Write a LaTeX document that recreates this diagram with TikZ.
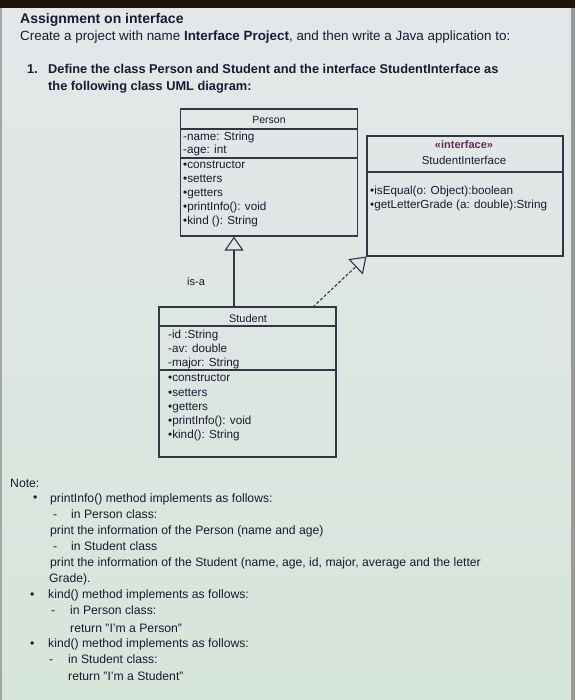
\documentclass[tikz,border=0pt]{standalone}
\usepackage{fontspec}
\setmainfont{Liberation Sans}
\usetikzlibrary{arrows.meta}
\definecolor{ink}{RGB}{26,26,50}
\definecolor{lineclr}{RGB}{50,55,70}
\definecolor{bgtop}{RGB}{228,231,234}
\definecolor{bgbot}{RGB}{214,229,218}
\definecolor{pinkish}{RGB}{110,40,90}
\tikzset{
  txt/.style={anchor=base west, inner sep=0pt, text=ink, font=\fontsize{13.4}{15}\selectfont},
  boldtxt/.style={anchor=base west, inner sep=0pt, text=ink, font=\fontsize{12.8}{15}\selectfont\bfseries},
  umltxt/.style={anchor=base west, inner sep=0pt, text=ink, font=\fontsize{11.7}{13}\selectfont},
  umlhead/.style={anchor=base, inner sep=0pt, text=ink, font=\fontsize{10.5}{12}\selectfont},
  notetxt/.style={anchor=base west, inner sep=0pt, text=ink, font=\fontsize{12.2}{14}\selectfont},
  umlbox/.style={draw=lineclr, line width=1.1pt, inner sep=0pt},
  divider/.style={draw=lineclr, line width=1.1pt},
  inherit/.style={draw=lineclr, line width=1.1pt, -{Triangle[open, length=14pt, width=19pt, line width=1.1pt]}},
  realize/.style={draw=lineclr, line width=1.1pt, dash pattern=on 3pt off 2pt, -{Triangle[open, length=15pt, width=21pt, line width=1.1pt]}}
}
\begin{document}
\begin{tikzpicture}[x=1pt, y=-1pt]
\useasboundingbox (0,0) rectangle (575,700);
% background
\shade[top color=bgtop, bottom color=bgbot] (0,0) rectangle (575,700);
\fill[black!85!brown] (0,0) rectangle (575,8);
\fill[gray!70] (0,8) rectangle (2,700);
\fill[gray!80] (571,8) rectangle (575,700);

% heading
\node[txt, font=\fontsize{14}{16}\selectfont\bfseries] (title) at (20,24) {Assignment on interface};
\node[txt] (line2) at (20,41) {Create a project with name \textbf{Interface Project}, and then write a Java application to:};
\node[boldtxt] (num) at (27,74) {1.};
\node[boldtxt] (line3) at (48,74) {Define the class Person and Student and the interface StudentInterface as};
\node[boldtxt] (line4) at (48,91) {the following class UML diagram:};

% Person box
\node[umlbox, minimum width=177pt, minimum height=127pt] (person) at (269,172.5) {};
\draw[divider] (180,129) -- (357,129);
\draw[divider] (180,158) -- (357,158);
\node[umlhead] (pname) at (269,124) {Person};
\node[umltxt] (p1) at (183,140.5) {-name: String};
\node[umltxt] (p2) at (183,154) {-age: int};
\node[umltxt] (p3) at (183,169) {•constructor};
\node[umltxt] (p4) at (183,183) {•setters};
\node[umltxt] (p5) at (183,197) {•getters};
\node[umltxt] (p6) at (183,211) {•printInfo(): void};
\node[umltxt] (p7) at (183,225) {•kind (): String};

% Interface box
\node[umlbox, minimum width=196pt, minimum height=120pt] (iface) at (465,196) {};
\draw[divider] (367,172) -- (563,172);
\node[umlhead, text=pinkish, font=\fontsize{11}{12}\selectfont\bfseries] (istereo) at (464,149) {«interface»};
\node[umlhead, font=\fontsize{11.5}{12}\selectfont] (iname) at (464,165) {StudentInterface};
\node[umltxt] (i1) at (370,195) {•isEqual(o: Object):boolean};
\node[umltxt] (i2) at (370,209) {•getLetterGrade (a: double):String};

% Student box
\node[umlbox, minimum width=177pt, minimum height=150pt] (student) at (247.5,382) {};
\draw[divider] (159,326) -- (336,326);
\draw[divider] (159,370) -- (336,370);
\node[umlhead, font=\fontsize{11}{12}\selectfont] (sname) at (248,322) {Student};
\node[umltxt] (s1) at (168,338.5) {-id :String};
\node[umltxt] (s2) at (168,352) {-av: double};
\node[umltxt] (s3) at (168,366) {-major: String};
\node[umltxt] (s4) at (168,381.5) {•constructor};
\node[umltxt] (s5) at (168,396) {•setters};
\node[umltxt] (s6) at (168,410) {•getters};
\node[umltxt] (s7) at (168,424) {•printInfo(): void};
\node[umltxt] (s8) at (168,438) {•kind(): String};

% connectors
\coordinate (stop) at (234,307);
\draw[inherit] (stop) -- (stop |- person.south);
\node[anchor=base west, inner sep=0pt, text=ink, font=\fontsize{11}{12}\selectfont\rmfamily] (isa) at (187,285) {is-a};
\coordinate (sdash) at (313,307);
\draw[realize] (sdash) -- (iface.south west);

% notes
\node[notetxt] (note) at (10,487) {Note:};
\node[notetxt] (b1) at (33,501) {•};
\node[notetxt] (n1) at (50,502) {printInfo() method implements as follows:};
\node[notetxt] (d1) at (53,518) {-};
\node[notetxt] (n2) at (71,518) {in Person class:};
\node[notetxt] (n3) at (50,534) {print the information of the Person (name and age)};
\node[notetxt] (d2) at (53,550) {-};
\node[notetxt] (n4) at (71,550) {in Student class};
\node[notetxt] (n5) at (50,566) {print the information of the Student (name, age, id, major, average and the letter};
\node[notetxt] (n6) at (49,582) {Grade).};
\node[notetxt] (b2) at (30,598) {•};
\node[notetxt] (n7) at (48,598) {kind() method implements as follows:};
\node[notetxt] (d3) at (51,614) {-};
\node[notetxt] (n8) at (70,614) {in Person class:};
\node[notetxt] (n9) at (70,632) {return "I'm a Person"};
\node[notetxt] (b3) at (30,647) {•};
\node[notetxt] (n10) at (48,647) {kind() method implements as follows:};
\node[notetxt] (d4) at (49,663) {-};
\node[notetxt] (n11) at (68,663) {in Student class:};
\node[notetxt] (n12) at (68,680) {return "I'm a Student"};
\end{tikzpicture}
\end{document}
